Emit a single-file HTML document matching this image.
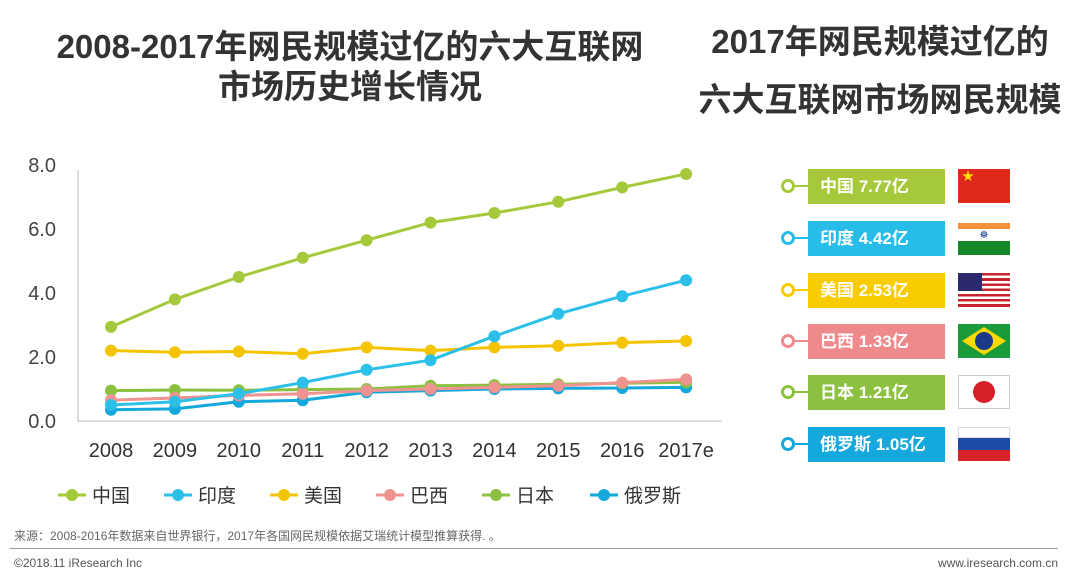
<!DOCTYPE html>
<html><head><meta charset="utf-8"><style>
body{margin:0;width:1080px;height:579px;background:#fff;overflow:hidden;font-family:"Liberation Sans","Noto Sans CJK SC",sans-serif;position:relative}
.t{position:absolute;font-weight:bold;color:#333;text-align:center;font-size:33px;white-space:nowrap}
.box{position:absolute;left:808px;width:137px;height:35px;color:#fff;font-weight:bold;font-size:17px;line-height:35px;padding-left:12px;box-sizing:border-box}
.dot{position:absolute;left:781px;width:8px;height:8px;border:3px solid;border-radius:50%;background:#fff}
.ln{position:absolute;left:795px;width:13px;height:2px}
.flag{position:absolute;left:958px;width:52px;height:34px;overflow:hidden}
</style></head><body>
<div class="t" style="left:20px;width:660px;top:27px;line-height:40px">2008-2017年网民规模过亿的六大互联网<br>市场历史增长情况</div>
<div class="t" style="left:685px;width:390px;top:13px;line-height:58px">2017年网民规模过亿的<br>六大互联网市场网民规模</div>
<svg id="chart" width="760" height="540" style="position:absolute;left:0;top:0"></svg>
<div id="panel"></div>
<div style="position:absolute;left:14px;top:527px;font-size:12px;color:#666">来源：2008-2016年数据来自世界银行，2017年各国网民规模依据艾瑞统计模型推算获得. 。</div>
<div style="position:absolute;left:10px;top:548px;width:1048px;height:1px;background:#999"></div>
<div style="position:absolute;left:14px;top:556px;font-size:12px;color:#555">©2018.11 iResearch Inc</div>
<div style="position:absolute;right:22px;top:556px;font-size:12px;color:#555">www.iresearch.com.cn</div>
<script>
const categories=["2008","2009","2010","2011","2012","2013","2014","2015","2016","2017e"];
const seriesNames=["中国","印度","美国","巴西","日本","俄罗斯"];
const china=[2.94,3.8,4.5,5.1,5.65,6.2,6.5,6.85,7.3,7.72];
const india=[0.5,0.6,0.85,1.2,1.6,1.9,2.65,3.35,3.9,4.4];
const usa=[2.2,2.15,2.17,2.1,2.3,2.2,2.3,2.35,2.45,2.5];
const brazil=[0.65,0.72,0.8,0.85,0.95,1.0,1.05,1.1,1.2,1.3];
const japan=[0.95,0.97,0.96,0.98,1.0,1.1,1.12,1.15,1.18,1.21];
const russia=[0.35,0.38,0.6,0.65,0.9,0.95,1.0,1.02,1.03,1.05];
const yTicks=[0,2,4,6,8];
const colors=["#a5c93a","#2cc0e8","#f5c400","#ef9391","#8cc040","#14a8dc"];
const all=[china,india,usa,brazil,japan,russia];
const X=i=>111+i*63.9, Y=v=>421-v*32;
const svg=document.getElementById('chart'),NS="http://www.w3.org/2000/svg";
function mk(t,a,p){const e=document.createElementNS(NS,t);for(const k in a)e.setAttribute(k,a[k]);(p||svg).appendChild(e);return e;}
let e=mk('line',{x1:78,y1:170,x2:78,y2:421,stroke:'#bbb'});


e=mk('line',{x1:78,y1:421,x2:722,y2:421,stroke:'#bbb'});


yTicks.forEach(v=>{const t=mk('text',{x:56,y:Y(v)+7,'text-anchor':'end','font-size':20,fill:'#444'});t.textContent=v.toFixed(1);

});
categories.forEach((c,i)=>{const t=mk('text',{x:X(i),y:457,'text-anchor':'middle','font-size':20,fill:'#333'});t.textContent=c;

});
[5,4,3,2,1,0].forEach(s=>{const d=all[s];
const p=mk('polyline',{points:d.map((v,i)=>X(i)+','+Y(v)).join(' '),fill:'none',stroke:colors[s],'stroke-width':3});


d.forEach((v,i)=>{const c=mk('circle',{cx:X(i),cy:Y(v),r:6,fill:colors[s]});

});});
const lx=[58,164,270,376,482,590];
seriesNames.forEach((n,s)=>{const g=mk('g',{});


mk('line',{x1:lx[s],y1:495,x2:lx[s]+28,y2:495,stroke:colors[s],'stroke-width':3},g);
mk('circle',{cx:lx[s]+14,cy:495,r:6,fill:colors[s]},g);
const t=mk('text',{x:lx[s]+34,y:502,'font-size':19,fill:'#333'},g);t.textContent=n;});
const pLabels=["中国 7.77亿","印度 4.42亿","美国 2.53亿","巴西 1.33亿","日本 1.21亿","俄罗斯 1.05亿"];
const pColors=["#a5c93a","#27bde8","#f8cc00","#ef8a8c","#8cc040","#14a8dc"];
const pCenters=[186,238,290,341,392,444];
const flags=[
'<div style="width:100%;height:100%;background:#e0291b;color:#ffde00;font-size:12px;line-height:14px;padding-left:4px">★</div>',
'<div style="height:6px;margin-top:2px;background:#f7913a"></div><div style="height:12px;background:#fff;text-align:center;font-size:10px;color:#1a3a8a;line-height:14px">☸</div><div style="height:14px;background:#17882a"></div>',
'<div style="width:100%;height:100%;background:repeating-linear-gradient(#c8242f 0 2.6px,#fff 2.6px 5.2px);position:relative"><div style="position:absolute;left:0;top:0;width:24px;height:18px;background:#2b2a6e"></div></div>',
'<div style="width:100%;height:100%;background:#1a9a3a;position:relative"><div style="position:absolute;left:4px;top:3px;width:44px;height:28px;background:#f9d900;clip-path:polygon(50% 0,100% 50%,50% 100%,0 50%)"></div><div style="position:absolute;left:17px;top:8px;width:18px;height:18px;border-radius:50%;background:#1a3a8a"></div></div>',
'<div style="width:100%;height:100%;background:#fff;border:1px solid #ccc;box-sizing:border-box;position:relative"><div style="position:absolute;left:14px;top:5px;width:22px;height:22px;border-radius:50%;background:#d6202a"></div></div>',
'<div style="height:33%;background:#fff;border:1px solid #ddd;box-sizing:border-box"></div><div style="height:34%;background:#1c4aa8"></div><div style="height:33%;background:#d8232a"></div>'];
const panel=document.getElementById('panel');
pLabels.forEach((l,i)=>{const y=pCenters[i];
let d=document.createElement('div');d.className='dot';d.style.top=(y-7)+'px';d.style.borderColor=pColors[i];

panel.appendChild(d);
d=document.createElement('div');d.className='ln';d.style.top=(y-1)+'px';d.style.background=pColors[i];

panel.appendChild(d);
d=document.createElement('div');d.className='box';d.style.top=(y-17)+'px';d.style.background=pColors[i];d.textContent=l;

panel.appendChild(d);
d=document.createElement('div');d.className='flag';d.style.top=(y-17)+'px';d.innerHTML=flags[i];

panel.appendChild(d);});
</script>
</body></html>
